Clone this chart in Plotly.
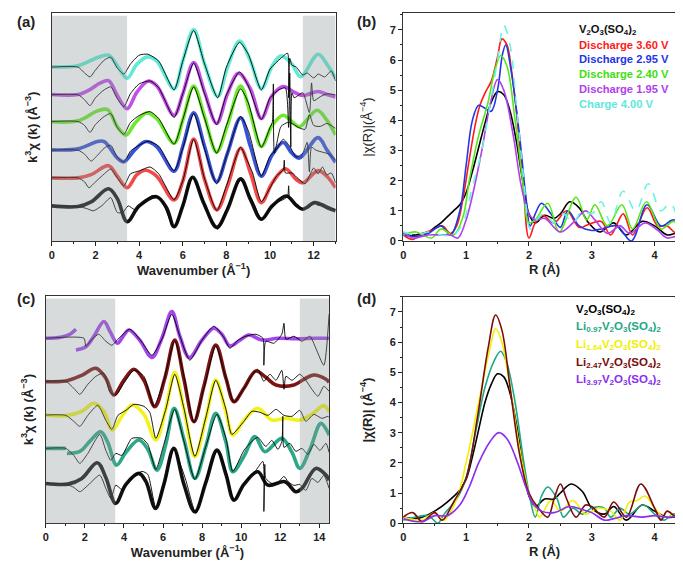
import plotly.graph_objects as go

# ---------------- Panel (a): k-space, fits (thick) and data (thin) ----------------
a_fit_k = [
    [0,1.2,1.8,2.6,3.0,3.45,4.0,4.8,5.25,5.6,6.0,6.45,6.95,7.56,8.05,8.65,9.1,9.6,10.1,10.75,11.2,11.5,12.05,12.6,13],
    [0,1.2,1.8,2.6,3.0,3.45,3.9,4.3,4.8,5.6,6.0,6.5,7.0,7.56,8.05,8.65,9.1,9.6,10.1,10.7,11.2,11.5,12.2,12.6,13],
    [0,1.2,2.1,2.4,3.0,3.3,3.8,4.3,4.8,5.6,6.0,6.5,7.0,7.55,8.05,8.65,9.1,9.6,10.1,10.6,11.0,11.35,12.2,12.6,13],
    [0,1.2,2.1,2.55,3.0,3.4,3.8,4.35,4.8,5.6,6.0,6.5,7.0,7.55,8.05,8.65,9.1,9.6,10.1,10.6,11.0,11.35,12.15,12.6,13],
    [0,1.2,1.8,2.2,2.6,3.0,3.45,3.9,4.4,4.8,5.6,6.0,6.5,7.0,7.55,8.05,8.55,9.1,9.6,10.1,10.6,11.1,11.5,12.2,12.6,13],
    [0,1.2,2.1,2.6,3.0,3.45,3.9,4.4,4.8,5.6,6.0,6.5,7.0,7.6,8.05,8.6,9.1,9.6,10.1,10.5,11.0,11.4,12.2,12.6,13],
]
a_fit_y = [
    [3.57,3.5,3.97,5.3,4.3,1.97,3.57,4.5,3.4,1.47,3.57,6.47,3.9,1.4,3.23,6.3,4.23,2.23,3.57,4.57,3.63,3.23,3.9,3.4,3.07],
    [6.4,6.4,6.73,7.63,6.57,5.4,6.73,7.17,6.57,4.17,6.07,10.33,6.23,3.17,5.57,9.4,6.9,3.9,5.9,7.33,6.23,5.9,7.13,6.57,5.4],
    [9.23,9.33,10.07,10.07,8.4,8.03,9.23,10.07,9.57,7.07,9.57,12.97,9.57,6.0,8.9,12.47,9.57,6.57,8.73,9.97,8.9,8.4,10.47,9.23,7.97],
    [12.07,12.17,13.17,13.3,11.57,10.73,11.9,12.97,12.4,9.9,12.23,15.67,12.57,9.0,11.73,15.67,12.9,9.57,11.73,12.73,12.07,11.57,13.23,12.23,10.73],
    [14.83,14.83,15.4,15.97,16.23,14.73,13.4,15.07,16.17,15.73,12.73,14.9,18.07,15.07,11.9,14.9,16.97,15.4,12.4,14.73,15.63,15.07,14.73,15.13,14.83,14.57],
    [17.63,17.73,18.57,18.8,17.73,16.47,17.9,18.63,18.23,15.4,18.23,21.4,17.9,14.63,17.57,20.23,18.23,15.4,17.73,18.73,17.9,16.63,18.9,17.9,16.47],
]
a_fit_colors = ["#111111", "#f04a4a", "#3a52d8", "#6ee82c", "#c250e8", "#62ead6"]

a_dat_k = [
    [0,1.2,1.6,1.9,2.3,2.7,3.0,3.25,3.5,3.8,4.2,4.6,5.0,5.6,6.0,6.45,6.8,7.0,7.6,8.0,8.65,9.0,9.3,9.6,10.0,10.3,10.6,10.8,10.85,10.9,11.2,11.5,11.8,12.0,12.2,12.4,12.7,13],
    [0,1.2,1.5,1.7,2.0,2.4,2.7,3.0,3.3,3.6,4.0,4.5,4.9,5.6,6.0,6.5,7.0,7.56,8.0,8.65,8.9,9.2,9.6,10.0,10.3,10.6,10.65,10.7,11.0,11.3,11.6,11.8,12.0,12.2,12.4,12.6,12.8,13],
    [0,1.2,1.5,1.8,2.1,2.4,2.7,3.0,3.3,3.6,4.0,4.4,4.9,5.6,6.0,6.5,7.0,7.55,8.0,8.65,9.0,9.6,10.0,10.3,10.6,10.9,11.2,11.5,11.7,11.8,11.9,12.1,12.4,12.7,13],
    [0,1.2,1.5,1.75,2.0,2.4,2.7,3.0,3.3,3.6,4.0,4.5,4.9,5.6,6.0,6.5,7.0,7.55,8.0,8.65,9.0,9.6,10.0,10.1,10.15,10.2,10.5,10.8,11.0,11.3,11.6,11.8,12.0,12.3,12.6,13],
    [0,1.2,1.5,1.75,2.0,2.4,2.7,3.0,3.3,3.6,4.0,4.5,4.9,5.6,6.0,6.5,7.0,7.55,8.0,8.6,9.0,9.6,10.0,10.4,10.7,10.85,10.9,10.95,11.0,11.1,11.2,11.5,11.8,11.9,12.0,12.3,12.6,13],
    [0,1.2,1.5,1.75,2.0,2.4,2.7,3.0,3.3,3.6,4.0,4.4,4.9,5.6,6.0,6.5,7.0,7.6,8.0,8.6,9.0,9.6,10.0,10.5,10.8,10.85,10.9,11.0,11.2,11.5,11.7,12.0,12.2,12.5,12.8,13],
]
a_dat_y = [
    [3.57,3.5,3.3,3.07,3.6,4.4,2.9,2.9,3.57,3.2,3.9,4.6,4.2,1.4,3.6,6.4,5.0,3.6,1.2,3.2,6.2,4.9,3.6,2.1,3.4,3.9,4.2,4.5,5.6,4.3,3.6,3.3,3.4,4.0,3.6,3.8,3.5,3.2],
    [6.4,6.4,6.0,5.4,6.0,6.8,7.3,6.4,5.6,6.8,7.1,7.5,6.8,4.2,6.1,10.3,6.3,3.1,5.6,9.5,8.4,6.9,4.0,5.4,6.6,7.2,8.2,6.9,6.9,6.3,5.8,6.6,7.4,6.8,7.5,6.7,6.9,5.9],
    [9.2,9.2,8.8,8.1,8.7,9.4,9.7,8.5,8.0,9.1,9.7,10.1,9.6,7.1,9.4,12.9,9.3,5.8,8.6,12.6,11.2,6.6,8.6,9.3,10.3,9.6,8.5,8.9,10.0,7.0,9.5,9.2,9.0,8.8,8.2],
    [12.1,12.1,11.7,11.0,11.8,12.6,12.9,11.5,10.8,12.0,12.7,13.1,12.4,9.8,12.3,15.6,12.4,8.9,11.7,15.4,14.0,9.5,11.5,12.0,15.9,8.9,11.6,12.0,11.9,11.5,11.3,12.8,11.7,11.6,11.9,11.4],
    [14.8,14.8,14.3,13.7,14.5,15.3,15.6,14.4,13.6,14.9,15.9,16.2,15.5,12.5,14.9,18.0,14.9,11.8,14.8,17.1,15.7,12.3,14.5,15.3,15.5,11.5,17.0,9.5,15.0,14.5,14.6,15.0,13.0,16.0,14.2,14.6,14.9,14.8],
    [17.6,17.6,17.0,16.6,17.3,18.3,18.6,17.5,16.9,17.9,18.8,18.9,18.2,15.3,18.2,21.3,17.9,14.5,17.6,20.1,18.9,15.3,17.4,18.5,19.0,14.5,18.5,17.8,17.6,16.8,17.0,16.5,16.9,16.6,17.2,16.2],
]
a_shade = [[0, 3.45], [11.5, 13]]

# ---------------- Panel (b): R-space ----------------
b_names = ["V<sub>2</sub>O<sub>3</sub>(SO<sub>4</sub>)<sub>2</sub>", "Discharge 3.60 V", "Discharge 2.95 V",
           "Discharge 2.40 V", "Discharge 1.95 V", "Charge 4.00 V"]
b_colors = ["#000000", "#ff1a1a", "#2436e6", "#55e814", "#b040ee", "#6af2e4"]
b_text_colors = ["#111111", "#ff1a1a", "#2436e6", "#44dd10", "#b040ee", "#5ee8dc"]
b_r = [
    [0,0.1,0.2,0.3,0.4,0.5,0.6,0.7,0.8,0.9,1.0,1.1,1.2,1.3,1.4,1.5,1.6,1.7,1.8,1.9,2.0,2.1,2.25,2.4,2.5,2.65,2.8,2.95,3.13,3.35,3.55,3.8,4.0,4.2,4.35,4.5],
    [0,0.15,0.3,0.45,0.62,0.75,0.85,0.95,1.05,1.15,1.22,1.3,1.4,1.5,1.57,1.65,1.72,1.8,1.9,2.0,2.1,2.22,2.4,2.6,2.8,2.95,3.15,3.3,3.5,3.65,3.88,4.05,4.2,4.35,4.5],
    [0,0.2,0.4,0.6,0.75,0.9,1.0,1.1,1.2,1.3,1.4,1.5,1.58,1.63,1.72,1.85,1.95,2.02,2.1,2.2,2.35,2.5,2.62,2.8,3.0,3.15,3.4,3.63,3.88,4.1,4.3,4.5],
    [0,0.2,0.45,0.6,0.8,0.95,1.05,1.2,1.35,1.45,1.55,1.65,1.78,1.9,2.0,2.1,2.3,2.48,2.75,2.92,3.05,3.25,3.48,3.65,3.87,4.1,4.3,4.42,4.5],
    [0,0.15,0.4,0.6,0.75,0.87,1.0,1.1,1.25,1.38,1.5,1.6,1.75,1.88,2.0,2.1,2.25,2.5,2.7,2.9,3.05,3.25,3.45,3.6,3.85,4.05,4.2,4.35,4.5],
    [0,0.2,0.4,0.6,0.8,0.95,1.1,1.25,1.38,1.5,1.6,1.7,1.8,1.92,2.02,2.12,2.25,2.4,2.55,2.7,2.85,3.0,3.15,3.3,3.5,3.7,3.9,4.1,4.25,4.4,4.5],
]
b_v = [
    [0.25,0.2,0.2,0.25,0.3,0.45,0.6,0.8,1.0,1.2,1.6,2.3,3.1,3.9,4.6,4.95,4.85,4.3,3.3,2.0,0.9,0.6,0.85,0.75,0.9,1.3,1.1,0.6,0.3,0.6,0.2,0.65,0.5,0.2,0.25,0.1],
    [0.2,0.05,0.25,0.35,0.5,0.25,0.5,1.4,2.7,3.9,4.5,4.9,5.3,6.1,6.7,6.5,5.7,4.3,2.2,0.1,0.6,0.85,0.6,1.0,0.45,0.55,0.65,0.2,0.9,0.2,1.1,0.5,0.5,0.25,0.4],
    [0.2,0.15,0.25,0.5,0.2,1.0,2.5,4.0,4.5,4.4,4.3,5.0,6.2,6.5,5.6,3.5,1.5,0.5,0.9,1.25,0.9,0.45,1.0,0.5,0.35,0.4,0.5,0.0,1.2,0.5,0.7,0.5],
    [0.2,0.3,0.1,0.4,0.2,0.8,2.0,3.5,4.6,5.6,6.15,5.8,4.0,2.0,0.6,0.7,1.25,0.3,1.45,0.7,1.2,0.5,1.2,0.4,1.3,0.4,0.65,0.45,0.65],
    [0.3,0.1,0.2,0.2,0.2,0.1,0.7,1.5,3.0,4.5,5.35,5.0,3.5,1.8,0.9,0.7,0.75,0.3,0.6,1.0,0.7,0.25,0.5,0.25,0.6,0.35,0.1,0.15,0.1],
    [0.3,0.2,0.3,0.2,0.2,0.6,1.8,3.0,4.5,6.0,7.15,6.5,4.5,2.0,0.4,0.7,0.9,0.6,0.9,0.6,1.0,0.9,1.3,0.6,1.65,1.0,1.9,1.0,1.25,0.7,1.0],
]

# ---------------- Panel (c): k-space, Li series ----------------
c_fit_k = [
    [0,1.13,1.84,2.63,3.07,3.57,4.1,4.76,5.12,5.61,6.04,6.55,7.07,7.63,8.19,8.76,9.22,9.63,10.14,10.85,11.37,12.24,12.8,13.11,13.82,14.34,14.5],
    [0,1.02,None,1.08,1.74,2.25,2.81,3.17,3.62,4.1,4.76,5.22,5.69,6.14,6.57,7.07,7.63,8.19,8.7,9.22,9.57,10.14,10.7,11.21,12.08,12.6,13.0,13.52,14.08,14.44,14.5],
    [0,1.02,1.84,2.46,2.97,3.4,3.89,4.42,5.02,5.63,6.14,6.6,7.07,7.63,8.19,8.7,9.22,9.57,10.14,10.85,11.57,12.29,13.0,13.62,14.23,14.5],
    [0,1.02,1.84,2.56,3.07,3.48,3.99,4.51,5.02,5.58,6.09,6.6,7.07,7.58,8.09,8.7,9.22,9.63,10.14,10.75,11.26,11.78,12.7,13.21,13.72,14.34,14.5],
    [0,0.77,1.23,1.54,None,1.54,2.05,2.46,2.97,3.28,3.66,3.99,4.25,4.81,5.43,5.94,6.45,6.86,7.34,7.99,8.6,9.01,9.42,9.93,10.39,11.06,11.88,12.8,13.82,14.5],
]
c_fit_y = [
    [4.1,4.03,4.6,6.17,4.7,2.1,4.0,5.1,4.3,1.6,4.0,7.6,4.0,1.27,4.2,7.43,5.0,2.43,4.0,5.27,3.93,4.27,3.27,3.6,5.6,4.93,4.4],
    [7.6,7.6,None,7.1,7.3,8.3,9.27,8.2,5.93,7.2,8.43,7.5,5.43,8.0,11.6,8.5,4.6,7.8,11.1,8.2,5.27,6.8,8.77,7.27,8.6,7.2,5.6,7.5,10.1,9.2,8.9],
    [10.93,10.87,11.3,12.1,11.3,9.43,10.8,11.93,11.0,8.43,11.5,15.2,11.5,6.77,10.6,14.43,11.2,8.93,10.4,11.6,10.43,10.6,10.43,11.0,11.87,11.24],
    [14.27,14.33,14.9,15.6,14.6,12.93,14.4,15.5,14.4,11.77,14.6,18.43,14.5,10.27,13.8,17.93,14.6,12.27,13.6,15.33,14.7,13.93,13.93,14.5,14.93,14.5,14.2],
    [18.6,18.7,19.0,19.5,None,17.43,17.75,18.8,20.27,19.3,18.1,18.9,19.43,18.4,16.67,18.6,21.27,18.8,16.67,18.4,19.6,19.0,17.83,18.4,18.93,18.43,18.6,18.55,18.6,18.6],
]
c_fit_colors = ["#111111", "#2aa887", "#f2f21c", "#7c1414", "#a446ee"]

c_dat_k = [
    [0,1.02,1.43,1.74,2.15,2.76,3.07,3.33,3.58,3.89,4.4,4.92,5.22,5.63,6.04,6.55,6.96,7.17,7.68,8.09,8.76,9.11,9.32,9.63,10.14,10.75,11.11,11.16,11.21,11.26,11.57,11.88,12.19,12.39,12.7,13.0,13.31,13.62,13.93,14.23,14.5],
    [0,1.02,1.43,1.74,2.15,2.76,3.07,3.33,3.58,3.89,4.4,4.92,5.22,5.63,6.04,6.6,7.07,7.63,8.19,8.76,9.22,9.57,10.14,10.55,10.85,11.26,11.57,11.88,12.08,12.13,12.19,12.49,12.8,13.11,13.41,13.72,14.03,14.34,14.5],
    [0,1.02,1.43,1.74,2.15,2.66,3.07,3.38,3.69,4.1,4.51,5.02,5.32,5.63,6.14,6.6,7.07,7.63,8.19,8.7,9.22,9.52,10.14,10.55,10.96,11.37,11.78,12.19,12.6,13.0,13.31,13.72,14.13,14.44,14.5],
    [0,1.02,1.43,1.74,2.15,2.56,2.97,3.28,3.58,3.99,4.51,5.02,5.53,6.04,6.6,7.07,7.58,8.09,8.7,9.22,9.63,10.14,10.55,10.85,11.16,11.47,11.78,12.08,12.19,12.29,12.6,13.0,13.31,13.62,13.93,14.23,14.5],
    [0,1.95,2.05,2.36,2.71,3.07,3.38,3.69,4.3,4.92,5.43,5.94,6.45,6.86,7.37,7.99,8.6,9.11,9.42,9.83,10.24,10.75,11.11,11.16,11.26,11.67,12.08,12.19,12.29,12.7,13.11,13.52,13.82,14.23,14.5],
]
c_dat_y = [
    [4.1,4.05,3.7,3.27,3.9,4.93,3.6,2.6,3.93,3.5,4.6,5.3,5.0,1.7,3.8,7.5,5.6,4.4,1.1,3.8,7.3,6.0,4.6,2.4,4.1,5.4,6.3,1.3,6.0,4.6,4.1,4.2,4.8,4.3,3.9,4.0,3.4,4.6,4.2,4.9,3.6],
    [7.6,7.6,6.9,6.1,7.1,9.0,7.4,6.4,7.1,6.9,8.6,8.6,8.0,5.5,8.0,11.5,8.3,4.5,7.8,11.0,8.6,5.3,7.4,8.3,8.7,7.8,8.4,7.5,8.3,10.8,7.7,8.1,7.3,7.6,7.0,8.0,7.4,8.1,7.2],
    [10.93,10.9,10.3,9.8,10.9,11.9,10.4,9.5,10.9,11.4,12.0,11.8,11.2,8.6,11.5,15.0,11.6,6.8,10.7,14.4,11.5,9.0,10.3,11.3,11.2,10.9,11.5,10.9,10.8,11.4,10.3,11.0,10.6,10.8,10.7],
    [14.27,14.3,13.6,13.0,14.0,14.8,15.1,13.2,12.9,14.1,15.4,14.8,11.8,14.4,18.3,14.8,10.2,13.6,17.8,14.6,12.2,13.6,14.9,15.5,14.3,15.0,14.4,15.4,13.5,14.8,14.4,15.0,14.4,13.5,12.8,13.8,13.3],
    [18.6,18.6,17.8,18.5,19.0,18.3,17.9,18.5,19.5,18.2,16.9,18.5,21.0,18.8,16.4,18.4,19.8,18.7,17.6,18.4,18.8,19.0,18.6,15.9,18.3,18.1,19.0,20.1,18.5,18.8,18.3,18.8,17.6,15.9,21.0],
]
c_shade = [[0, 3.55], [13.0, 14.5]]

# ---------------- Panel (d): R-space, Li series ----------------
d_names = ["V<sub>2</sub>O<sub>3</sub>(SO<sub>4</sub>)<sub>2</sub>",
           "Li<sub>0.97</sub>V<sub>2</sub>O<sub>3</sub>(SO<sub>4</sub>)<sub>2</sub>",
           "Li<sub>1.64</sub>V<sub>2</sub>O<sub>3</sub>(SO<sub>4</sub>)<sub>2</sub>",
           "Li<sub>2.47</sub>V<sub>2</sub>O<sub>3</sub>(SO<sub>4</sub>)<sub>2</sub>",
           "Li<sub>3.97</sub>V<sub>2</sub>O<sub>3</sub>(SO<sub>4</sub>)<sub>2</sub>"]
d_colors = ["#000000", "#1fa886", "#f0f000", "#7a0c0c", "#8a2ef0"]
d_r = [
    [0,0.2,0.3,0.5,0.7,0.9,1.0,1.1,1.2,1.3,1.4,1.5,1.6,1.7,1.8,1.9,2.0,2.1,2.25,2.4,2.5,2.67,2.85,3.0,3.2,3.35,3.55,3.8,4.0,4.2,4.35,4.5],
    [0,0.2,0.4,0.55,0.65,0.85,1.0,1.15,1.3,1.45,1.55,1.65,1.78,1.92,2.02,2.1,2.2,2.3,2.45,2.55,2.7,2.85,3.0,3.2,3.3,3.45,3.6,3.82,4.0,4.15,4.3,4.5],
    [0,0.3,0.5,0.65,0.85,1.0,1.2,1.38,1.47,1.57,1.7,1.85,2.0,2.1,2.17,2.35,2.5,2.7,2.9,3.1,3.3,3.45,3.6,3.72,3.85,4.0,4.15,4.3,4.5],
    [0,0.15,0.3,0.5,0.62,0.8,1.0,1.18,1.35,1.47,1.57,1.7,1.85,2.0,2.15,2.3,2.4,2.5,2.6,2.75,2.9,3.0,3.2,3.35,3.55,3.78,4.0,4.1,4.2,4.35,4.5],
    [0,0.3,0.5,0.7,0.9,1.05,1.2,1.38,1.52,1.65,1.82,1.95,2.05,2.2,2.4,2.65,2.85,3.0,3.2,3.35,3.55,3.8,4.0,4.2,4.5],
]
d_v = [
    [0.2,0.15,0.2,0.4,0.7,1.1,1.45,2.2,3.1,4.0,4.6,4.95,4.85,4.3,3.3,2.0,0.9,0.55,0.8,0.8,1.0,1.3,1.05,0.5,0.3,0.55,0.1,0.6,0.4,0.2,0.2,0.05],
    [0.1,0.2,0.25,0.0,0.3,0.8,1.5,3.0,4.5,5.4,5.7,5.3,4.0,2.0,0.8,0.2,0.9,1.2,0.8,0.2,0.5,0.3,0.5,0.5,0.2,0.5,0.3,0.6,0.3,0.1,0.3,0.25],
    [0.2,0.1,0.35,0.1,0.8,2.0,4.0,5.8,6.45,6.0,4.5,2.5,1.0,0.5,0.2,0.75,0.4,0.75,0.3,0.5,0.4,0.1,0.7,0.75,0.9,0.5,0.2,0.25,0.2],
    [0.2,0.35,0.05,0.35,0.1,0.7,1.5,3.5,5.8,6.9,6.4,4.5,2.3,1.0,0.5,0.2,0.8,1.3,0.8,0.2,0.6,0.55,0.2,0.7,0.2,1.3,0.5,0.1,0.4,0.2,0.3],
    [0.15,0.05,0.25,0.25,0.6,1.2,2.0,2.7,3.0,2.8,2.0,1.2,0.7,0.4,0.35,0.55,0.45,0.35,0.1,0.15,0.25,0.2,0.25,0.2,0.25],
]

# ---------------- Figure ----------------
FONT = "Liberation Sans, Arial, sans-serif"
fig = go.Figure()

def add_k_panel(fk, fy, fcols, dk, dy, xa, ya):
    for k, y, c in zip(fk, fy, fcols):
        fig.add_trace(go.Scatter(x=k, y=y, mode="lines", line=dict(color=c, width=3.6, shape="spline", smoothing=1.0),
                                 xaxis=xa, yaxis=ya, showlegend=False, hoverinfo="skip", connectgaps=False))
    for k, y in zip(dk, dy):
        fig.add_trace(go.Scatter(x=k, y=y, mode="lines", line=dict(color="#000000", width=0.9, shape="spline", smoothing=0.6),
                                 xaxis=xa, yaxis=ya, showlegend=False, hoverinfo="skip"))

add_k_panel(a_fit_k, a_fit_y, a_fit_colors, a_dat_k, a_dat_y, "x", "y")
add_k_panel(c_fit_k, c_fit_y, c_fit_colors, c_dat_k, c_dat_y, "x3", "y3")

for i, (r, v, c) in enumerate(zip(b_r, b_v, b_colors)):
    fig.add_trace(go.Scatter(x=r, y=v, mode="lines",
                             line=dict(color=c, width=1.6, shape="spline", smoothing=1.0, dash="dash" if i == 5 else "solid"),
                             xaxis="x2", yaxis="y2", showlegend=False, hoverinfo="skip"))
for r, v, c in zip(d_r, d_v, d_colors):
    fig.add_trace(go.Scatter(x=r, y=v, mode="lines", line=dict(color=c, width=1.6, shape="spline", smoothing=1.0),
                             xaxis="x4", yaxis="y4", showlegend=False, hoverinfo="skip"))

shapes = []
for x0, x1 in a_shade:
    shapes.append(dict(type="rect", xref="x", yref="y domain", x0=x0, x1=x1, y0=0, y1=0.99,
                       fillcolor="rgba(140,152,152,0.35)", line=dict(width=0), layer="above"))
for x0, x1 in c_shade:
    shapes.append(dict(type="rect", xref="x3", yref="y3 domain", x0=x0, x1=x1, y0=0, y1=0.99,
                       fillcolor="rgba(140,152,152,0.35)", line=dict(width=0), layer="above"))

tickf = dict(family=FONT, size=11, color="#222", weight=700)
titf = dict(family=FONT, size=13, color="#222", weight=700)

def xax(domain, anchor, rng, dtick, minor, title, standoff=4):
    return dict(domain=domain, anchor=anchor, range=rng, dtick=dtick, tick0=0, showline=True, mirror=True,
                linecolor="#333", linewidth=1.2, ticks="outside", ticklen=4, tickwidth=1.2, tickcolor="#222",
                showgrid=False, zeroline=False, tickfont=tickf,
                minor=dict(dtick=minor, ticks="outside", ticklen=2, tickcolor="#222"),
                title=dict(text=title, font=titf, standoff=standoff))

def yax(domain, anchor, rng, ticks, title, weight=700, standoff=6):
    d = dict(domain=domain, anchor=anchor, range=rng, showline=True, mirror=True, linecolor="#333", linewidth=1.2,
             showgrid=False, zeroline=False, tickfont=tickf,
             title=dict(text=title, font=dict(family=FONT, size=13, color="#222", weight=weight), standoff=standoff))
    if ticks:
        d.update(dtick=1, tick0=0, ticks="outside", ticklen=4, tickwidth=1.2, tickcolor="#222",
                 minor=dict(dtick=0.5, ticks="outside", ticklen=2, tickcolor="#222"))
    else:
        d.update(showticklabels=False, ticks="")
    return d

ann = []
ann.append(dict(text="(a)", x=4 / 683, y=1 - 14 / 563))
ann.append(dict(text="(b)", x=346 / 683, y=1 - 14 / 563))
ann.append(dict(text="(c)", x=4 / 683, y=1 - 294 / 563))
ann.append(dict(text="(d)", x=346 / 683, y=1 - 294 / 563))
for a in ann:
    a.update(xref="paper", yref="paper", xanchor="left", yanchor="middle", showarrow=False,
             font=dict(family=FONT, size=15, color="#222", weight=700))
b_leg_y = [22, 37, 52, 67, 82, 97]
for name, c, py in zip(b_names, b_text_colors, b_leg_y):
    ann.append(dict(text=name, x=570 / 683, y=1 - py / 563, xref="paper", yref="paper", xanchor="left", yanchor="middle",
                    showarrow=False, borderpad=0, font=dict(family=FONT, size=11.2, color=c, weight=700)))
d_leg_y = [305, 322, 341, 359, 376]
for name, c, py in zip(d_names, d_colors, d_leg_y):
    ann.append(dict(text=name, x=566 / 683, y=1 - py / 563, xref="paper", yref="paper", xanchor="left", yanchor="middle",
                    showarrow=False, borderpad=0, font=dict(family=FONT, size=11.5, color=c, weight=700)))

fig.update_layout(
    width=683, height=563, margin=dict(l=0, r=0, t=0, b=0),
    paper_bgcolor="white", plot_bgcolor="white",
    xaxis=xax([41 / 683, 326 / 683], "y", [0, 13], 2, 1, "Wavenumber (Å<sup>−1</sup>)"),
    yaxis=yax([0.5817, 0.9902], "x", [0.02, 23.02], False, "k<sup>3</sup>χ (k) (Å<sup>−3</sup>)", standoff=10),
    xaxis2=xax([394 / 683, 678 / 683], "y2", [0, 4.5], 1, 0.5, "R (Å)"),
    yaxis2=yax([0.5817, 0.9911], "x2", [0, 7.56], True, "|χ(R)|(Å<sup>−4</sup>)", weight=400, standoff=14),
    xaxis3=xax([35 / 683, 319.5 / 683], "y3", [0, 14.5], 2, 1, "Wavenumber (Å<sup>−1</sup>)"),
    yaxis3=yax([0.0751, 0.4826], "x3", [0.13, 22.8], False, "k<sup>3</sup>χ (k) (Å<sup>−3</sup>)", standoff=8),
    xaxis4=xax([394 / 683, 678 / 683], "y4", [0, 4.5], 1, 0.5, "R (Å)"),
    yaxis4=yax([0.0751, 0.4813], "x4", [0, 7.5], True, "|χ(R)| (Å<sup>−4</sup>)", standoff=14),
    shapes=shapes, annotations=ann,
)

fig.write_html("out.html")
